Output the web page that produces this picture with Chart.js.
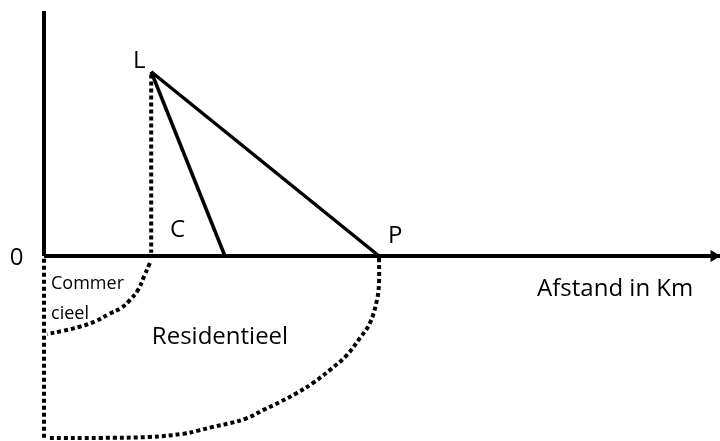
<!DOCTYPE html>
<html>
<head>
<meta charset="utf-8">
<title>Bid rent</title>
<script src="https://cdn.jsdelivr.net/npm/chart.js@4"></script>
<style>
  html, body { margin: 0; padding: 0; background: #fff; }
  canvas { display: block; }
</style>
</head>
<body>
<canvas id="chart" width="720" height="441"></canvas>
<script>
// ----- diagram data (distance units, rent units) -----
const originX = 0;
const axisEndX = 20.18;
const axisTopY = 7.31;

const pointL = { x: 3.2, y: 5.5 };
const pointC = { x: 5.4, y: 0 };
const pointP = { x: 10, y: 0 };

// commercial zone boundary
const commX = [3.16, 2.99, 2.81, 2.57, 2.30, 1.94, 1.55, 1.04, 0.54, 0.09];
const commY = [-0.21, -0.60, -1.01, -1.31, -1.55, -1.73, -1.94, -2.12, -2.24, -2.33];

// residential zone boundary
const resX = [10.0, 10.0, 9.94, 9.73, 9.43, 9.04, 8.54, 8.03, 7.55, 7.04, 6.54, 6.06, 5.55, 5.04, 4.57, 4.15, 3.16, 1.67, 0.09];
const resY = [-0.06, -0.81, -1.31, -2.00, -2.45, -2.96, -3.40, -3.79, -4.09, -4.36, -4.60, -4.84, -4.99, -5.10, -5.22, -5.31, -5.40, -5.43, -5.43];

// text labels
const labelText = ['L', '0', 'C', 'P', 'Afstand in Km', 'Commer', 'cieel', 'Residentieel'];
const labelX = [2.66, -1.02, 3.76, 10.27, 14.72, 0.21, 0.21, 3.22];
const labelY = [5.61, -0.27, 0.57, 0.39, -1.19, -0.99, -1.88, -2.63];
const labelSize = [24, 24, 24, 24, 24, 18, 18, 24];

const zip = (xs, ys) => xs.map((x, i) => ({ x, y: ys[i] }));

const solid = { borderColor: '#000', borderWidth: 3.5, pointRadius: 0, showLine: true, fill: false };
const dotted = { borderColor: '#000', borderWidth: 4, borderDash: [4, 3], pointRadius: 0, showLine: true, fill: false };

const labelPlugin = {
  id: 'labels',
  afterDraw(chart) {
    const { ctx, scales: { x, y } } = chart;
    ctx.save();
    ctx.fillStyle = '#000';
    ctx.textBaseline = 'alphabetic';
    ctx.textAlign = 'left';
    labelText.forEach((t, i) => {
      ctx.font = labelSize[i] + 'px "Open Sans"';
      ctx.fillText(t, x.getPixelForValue(labelX[i]), y.getPixelForValue(labelY[i]));
    });
    ctx.restore();
  }
};

new Chart(document.getElementById('chart'), {
  type: 'scatter',
  data: {
    datasets: [
      { ...solid, borderWidth: 4, data: [{ x: originX, y: 0 }, { x: axisEndX, y: 0 }] },
      { ...solid, borderWidth: 4, data: [{ x: originX, y: 0 }, { x: originX, y: axisTopY }] },
      { ...solid, borderWidth: 0, data: [{ x: 20.0, y: 0 }], showLine: false,
        pointStyle: 'triangle', pointRotation: 90, pointRadius: 7,
        backgroundColor: '#000' },
      { ...solid, data: [pointL, pointC] },
      { ...solid, data: [pointL, pointP] },
      { ...dotted, data: [{ x: pointL.x, y: pointL.y - 0.08 }, { x: pointL.x, y: 0.1 }] },
      { ...dotted, data: [{ x: originX, y: -0.08 }, { x: originX, y: resY[resY.length - 1] }] },
      { ...dotted, tension: 0.4, data: zip(commX, commY) },
      { ...dotted, tension: 0.4, data: zip(resX, resY) }
    ]
  },
  options: {
    responsive: false,
    animation: false,
    layout: { padding: 0, autoPadding: false },
    plugins: { legend: { display: false }, tooltip: { enabled: false } },
    scales: {
      x: { type: 'linear', display: false, min: -1.3134, max: 20.1791 },
      y: { type: 'linear', display: false, min: -5.5224, max: 7.6418 }
    }
  },
  plugins: [labelPlugin]
});
</script>
</body>
</html>
